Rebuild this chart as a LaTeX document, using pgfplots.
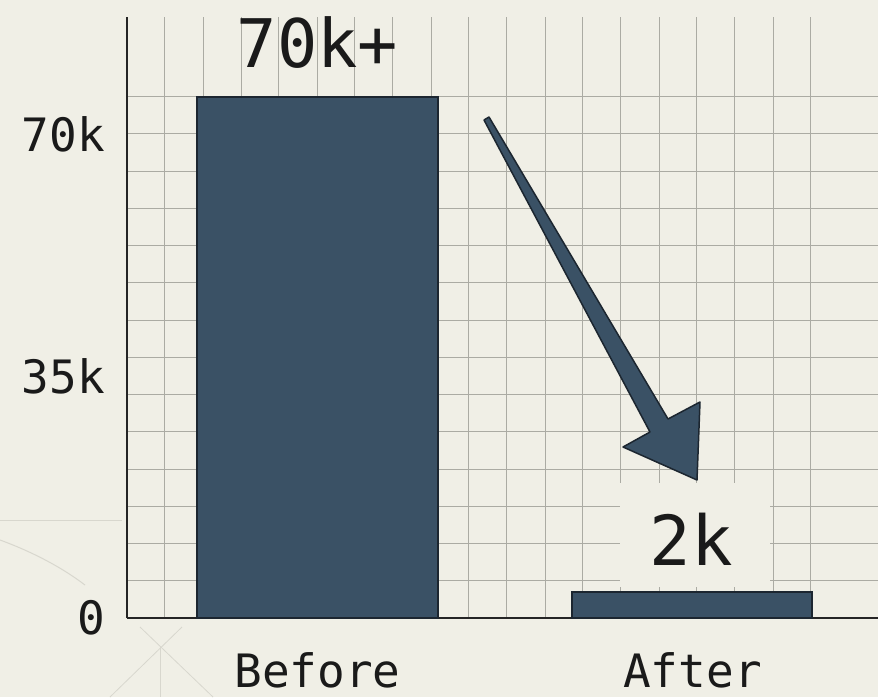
\documentclass[border=0pt]{standalone}
\usepackage{fontspec}
\setmainfont{DejaVu Sans Mono}
\usepackage{pgfplots}
\pgfplotsset{compat=1.18}
\definecolor{bg}{HTML}{F0EFE6}
\definecolor{gridc}{HTML}{ABABA3}
\definecolor{barc}{HTML}{3A5165}
\definecolor{bard}{HTML}{1C2630}
\definecolor{ink}{HTML}{1A1A1A}
\definecolor{faint}{HTML}{D8D7CE}
\begin{document}
\begin{tikzpicture}[x=1pt,y=1pt]
\useasboundingbox (0,0) rectangle (878,697);
\fill[bg] (0,0) rectangle (878,697);
\draw[faint, line width=1pt] (0,177) -- (122,177);
\draw[faint, line width=1pt] (0,157) .. controls (30,146) and (60,131) .. (85,112);
\draw[faint, line width=0.8pt] (140,70) -- (213,0);
\draw[faint, line width=0.8pt] (182,70) -- (110,0);
\draw[faint, line width=0.8pt] (160,50) -- (160,0);
\begin{axis}[
  at={(127pt,79pt)}, anchor=south west,
  scale only axis, width=751pt, height=601pt,
  xmin=-0.508, xmax=1.4947, ymin=0, ymax=86920,
  axis x line*=bottom, axis y line*=left,
  axis line style={line width=2.6pt, color=ink!95},
  xtick={0,1}, xticklabels={Before,After},
  ytick={0,35000,70000}, yticklabels={0,35k,70k},
  major tick length=0pt, minor tick length=0pt,
  minor xtick={-0.4067,-0.3053,-0.204,-0.1027,-0.0013,0.1,0.2013,0.3027,0.404,0.5053,0.6067,0.708,0.8093,0.9107,1.012,1.1133,1.2147,1.316},
  minor ytick={5384.6,10769.2,16153.8,21538.5,26923.1,32307.7,37692.3,43076.9,48461.5,53846.2,59230.8,64615.4,70000,75384.6},
  xminorgrids=true, yminorgrids=true,
  minor grid style={gridc, line width=1pt},
  tick label style={font=\fontsize{46pt}{46pt}\selectfont, text=ink, inner sep=0pt},
  yticklabel style={anchor=east, xshift=-22pt},
  xticklabel style={anchor=north, yshift=-34pt},
  clip=false,
]
\addplot[ybar, bar width=240pt, fill=barc, draw=bard, line width=2pt] coordinates {(0,75400) (1,3800)};
\end{axis}
\fill[bg] (620,110) rectangle (770,214);
\filldraw[fill=barc, draw=bard, line width=1.5pt, line join=round] (484,577) -- (650,265) -- (623,250) -- (697,217) -- (700,295) -- (668,278) -- (489,580) -- cycle;
\node[font=\fontsize{67pt}{67pt}\selectfont, text=ink, anchor=base, inner sep=0pt] at (317.5,629) {70k+};
\node[font=\fontsize{69pt}{69pt}\selectfont, text=ink, anchor=base, inner sep=0pt] at (691,132) {2k};
\end{tikzpicture}
\end{document}
